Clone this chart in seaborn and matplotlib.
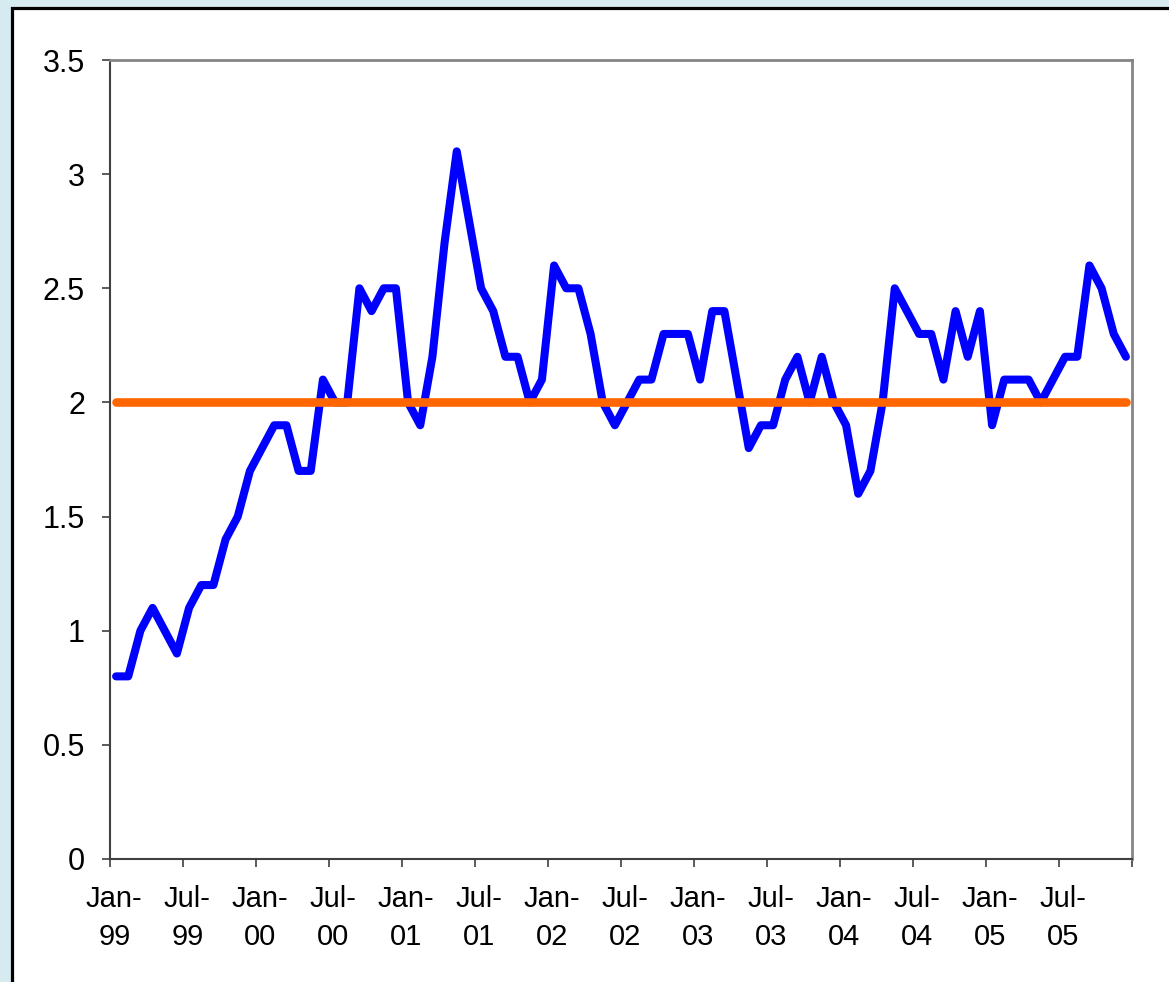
import numpy as np
import pandas as pd
import matplotlib
matplotlib.use("Agg")
import matplotlib.pyplot as plt
import seaborn as sns
from matplotlib.patches import Rectangle

# monthly values, Jan-99 .. Dec-05
values = [0.8, 0.8, 1.0, 1.1, 1.0, 0.9, 1.1, 1.2, 1.2, 1.4, 1.5, 1.7,
          1.8, 1.9, 1.9, 1.7, 1.7, 2.1, 2.0, 2.0, 2.5, 2.4, 2.5, 2.5,
          2.0, 1.9, 2.2, 2.7, 3.1, 2.8, 2.5, 2.4, 2.2, 2.2, 2.0, 2.1,
          2.6, 2.5, 2.5, 2.3, 2.0, 1.9, 2.0, 2.1, 2.1, 2.3, 2.3, 2.3,
          2.1, 2.4, 2.4, 2.1, 1.8, 1.9, 1.9, 2.1, 2.2, 2.0, 2.2, 2.0,
          1.9, 1.6, 1.7, 2.0, 2.5, 2.4, 2.3, 2.3, 2.1, 2.4, 2.2, 2.4,
          1.9, 2.1, 2.1, 2.1, 2.0, 2.1, 2.2, 2.2, 2.6, 2.5, 2.3, 2.2]
target_value = 2.0
tick_labels = ["Jan-\n99", "Jul-\n99", "Jan-\n00", "Jul-\n00", "Jan-\n01", "Jul-\n01",
               "Jan-\n02", "Jul-\n02", "Jan-\n03", "Jul-\n03", "Jan-\n04", "Jul-\n04",
               "Jan-\n05", "Jul-\n05"]
y_ticks = [0, 0.5, 1, 1.5, 2, 2.5, 3, 3.5]
y_tick_labels = ["0", "0.5", "1", "1.5", "2", "2.5", "3", "3.5"]

df = pd.DataFrame({"month": np.arange(len(values)) + 0.5, "value": values})
df["target"] = target_value

sns.set_style("white")
plt.rcParams["font.family"] = ["Liberation Sans", "DejaVu Sans"]
plt.rcParams["text.color"] = "black"

W, H = 1169, 982
fig = plt.figure(figsize=(W / 100, H / 100), dpi=100, facecolor="#D6EBF0")

# white chart area with black frame (runs off the right/bottom edges)
fig.add_artist(Rectangle((12 / W, -0.1), 1.2, (H - 8) / H + 0.1,
                         transform=fig.transFigure, facecolor="white",
                         edgecolor="black", linewidth=2.3, zorder=0))

ax = fig.add_axes([110 / W, (H - 859) / H, (1132 - 110) / W, (859 - 60) / H])
ax.set_facecolor("white")

sns.lineplot(data=df, x="month", y="value", color="#0000FF", linewidth=5.8,
             solid_capstyle="round", solid_joinstyle="round", ax=ax)
sns.lineplot(data=df, x="month", y="target", color="#FF6600", linewidth=6.2,
             solid_capstyle="round", ax=ax)

ax.set_xlim(0, len(values))
ax.set_ylim(0, 3.5)
ax.set_xlabel("")
ax.set_ylabel("")

# ticks every 6 months, labels sit a bit right of each tick
ax.set_xticks(np.arange(0, len(values) + 1, 6))
ax.set_xticklabels([])
ax.set_xticks(np.arange(0, len(values), 6) + 0.35, minor=True)
ax.set_xticklabels(tick_labels, minor=True, fontsize=21, linespacing=1.45)
ax.tick_params(axis="x", which="major", direction="out", length=6, width=1.2,
               color="#404040", bottom=True)
ax.tick_params(axis="x", which="minor", length=0, pad=19, bottom=True,
               labelcolor="black")

ax.set_yticks(y_ticks)
ax.set_yticklabels(y_tick_labels, fontsize=22)
ax.tick_params(axis="y", direction="out", length=6, width=1.2, color="#404040",
               pad=12, left=True, labelcolor="black")

for side in ["left", "bottom"]:
    ax.spines[side].set_color("#404040")
    ax.spines[side].set_linewidth(1.5)
for side in ["top", "right"]:
    ax.spines[side].set_color("#858585")
    ax.spines[side].set_linewidth(2)

fig.savefig("out.png", dpi=100, facecolor=fig.get_facecolor())
